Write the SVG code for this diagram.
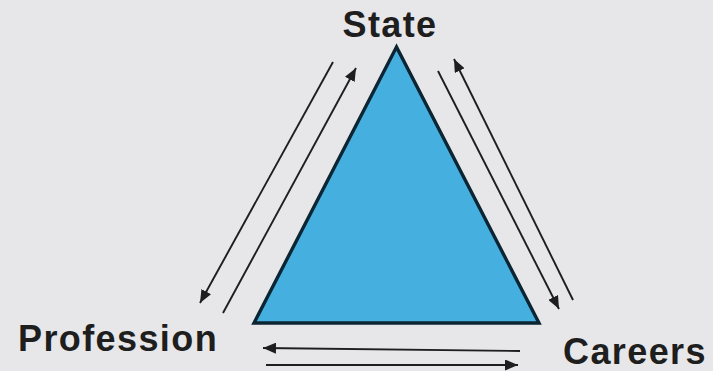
<svg xmlns="http://www.w3.org/2000/svg" width="713" height="371" viewBox="0 0 713 371">
<defs>
<marker id="ah" viewBox="0 0 13 11" refX="13" refY="5.5" markerWidth="13" markerHeight="11" markerUnits="userSpaceOnUse" orient="auto">
<path d="M0,0 L13,5.5 L0,11 Z" fill="#1e1e1e"/>
</marker>
</defs>
<style>
.lbl{font-family:"Liberation Sans",Arial,sans-serif;font-weight:bold;font-size:36px;fill:#1e1e1e;letter-spacing:1.4px}
.arr{stroke:#1e1e1e;stroke-width:1.9;fill:none;marker-end:url(#ah)}
</style>
<rect width="713" height="371" fill="#e7e7ea"/>
<g id="triangle">
<polygon points="396.5,47 254,323 539,323" fill="#45b0e0" stroke="#0b2533" stroke-width="3.4" stroke-linejoin="miter"/>
</g>
<g id="state"><text class="lbl" x="390" y="37" text-anchor="middle">State</text></g>
<g id="profession"><text class="lbl" x="18" y="351">Profession</text></g>
<g id="careers"><text class="lbl" x="563" y="364">Careers</text></g>
<g id="connectors">
<line class="arr" x1="333" y1="62" x2="200" y2="303"/>
<line class="arr" x1="223" y1="313" x2="356" y2="68"/>
<line class="arr" x1="438" y1="71" x2="559" y2="309"/>
<line class="arr" x1="573" y1="300" x2="454" y2="59"/>
<line class="arr" x1="520" y1="351" x2="263" y2="348"/>
<line class="arr" x1="266" y1="365" x2="518" y2="365"/>
</g>
</svg>
